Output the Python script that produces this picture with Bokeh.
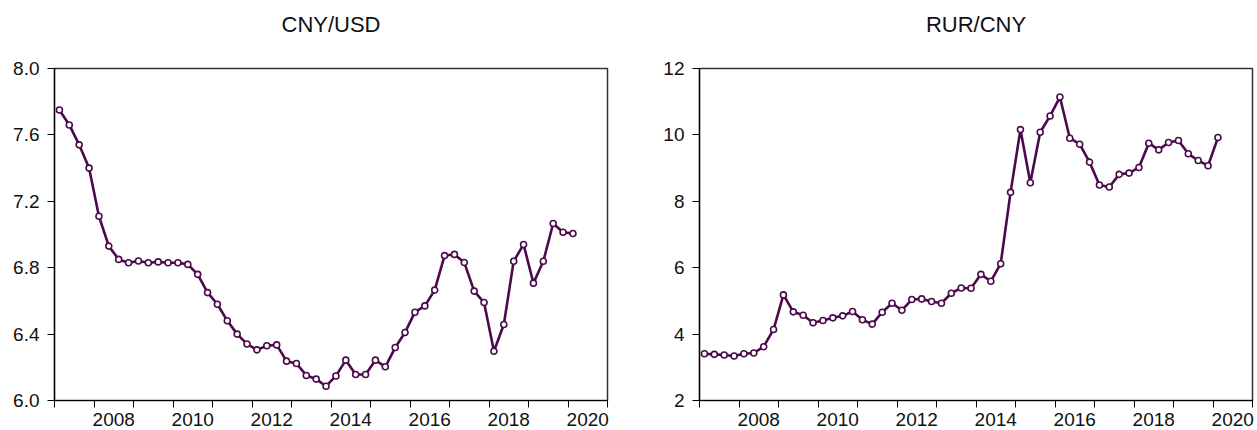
from bokeh.plotting import figure
from bokeh.layouts import row
from bokeh.models import FixedTicker, ColumnDataSource, Range1d, Title
from bokeh.embed import file_html
from bokeh.resources import INLINE

# Quarterly observations 2007Q1 .. 2020Q1
start_year = 2007
n_obs = 53
quarters = [f"{start_year + i // 4}Q{i % 4 + 1}" for i in range(n_obs)]

cny_usd = [7.75, 7.66, 7.54, 7.40, 7.11, 6.93, 6.85, 6.83, 6.84, 6.83,
           6.835, 6.83, 6.83, 6.82, 6.76, 6.65, 6.58, 6.48, 6.40, 6.34,
           6.305, 6.33, 6.335, 6.237, 6.223, 6.151, 6.129, 6.086, 6.148, 6.243,
           6.157, 6.157, 6.243, 6.203, 6.319, 6.41, 6.532, 6.57, 6.665, 6.873,
           6.88, 6.831, 6.659, 6.59, 6.297, 6.458, 6.839, 6.94, 6.707, 6.839,
           7.066, 7.014, 7.006]

rur_cny = [3.41, 3.39, 3.37, 3.34, 3.41, 3.43, 3.62, 4.14, 5.18, 4.67,
           4.57, 4.34, 4.41, 4.49, 4.55, 4.68, 4.43, 4.30, 4.66, 4.93,
           4.72, 5.04, 5.06, 4.98, 4.93, 5.23, 5.39, 5.38, 5.80, 5.59,
           6.12, 8.27, 10.16, 8.56, 10.08, 10.57, 11.14, 9.90, 9.72, 9.18,
           8.49, 8.43, 8.81, 8.85, 9.02, 9.75, 9.55, 9.77, 9.83, 9.43,
           9.23, 9.07, 9.92]

year_ticks = list(range(2007, 2022))
year_labels = ["2008", "2010", "2012", "2014", "2016", "2018", "2020"]

cny_ticks = [6.0, 6.4, 6.8, 7.2, 7.6, 8.0]
cny_tick_labels = ["6.0", "6.4", "6.8", "7.2", "7.6", "8.0"]
rur_ticks = [2, 4, 6, 8, 10, 12]
rur_tick_labels = ["2", "4", "6", "8", "10", "12"]


def qx(q):
    y, k = q.split("Q")
    return int(y) + (int(k) - 1) * 0.25 + 0.125


xs = [qx(q) for q in quarters]

LINE = "#4A0A4C"
FONT = "Liberation Sans"


def make(title, vals, yticks, ylabels, ymin, ymax, left_border, right_border):
    p = figure(output_backend="svg", toolbar_location=None,
               frame_width=553, frame_height=332,
               x_range=Range1d(2007, 2021), y_range=Range1d(ymin, ymax),
               min_border_left=left_border, min_border_right=right_border,
               min_border_top=68, min_border_bottom=0)
    p.title = None
    # spacer panel next to the frame, then the real title above it
    p.add_layout(Title(text=" ", text_font_size="2px", standoff=28), "above")
    p.add_layout(Title(text=title, align="center", text_font=FONT,
                       text_font_size="22px", text_font_style="normal",
                       text_color="#111111", standoff=0), "above")

    p.grid.visible = False
    p.outline_line_color = "#333333"
    p.outline_line_width = 1.5
    p.background_fill_color = "white"
    p.border_fill_color = "white"

    # x axis: ticks at year boundaries, labels centred in the year
    mids = [int(l) + 0.5 for l in year_labels]
    p.xaxis.ticker = FixedTicker(ticks=mids, minor_ticks=year_ticks)
    p.xaxis.major_label_overrides = {m: l for m, l in zip(mids, year_labels)}
    p.xaxis.major_tick_line_color = None
    p.xaxis.major_tick_out = 0
    p.xaxis.major_tick_in = 0
    p.xaxis.minor_tick_out = 7
    p.xaxis.minor_tick_in = 0
    p.xaxis.minor_tick_line_color = "black"
    p.xaxis.minor_tick_line_width = 1
    p.xaxis.major_label_standoff = 5

    p.yaxis.ticker = FixedTicker(ticks=yticks, minor_ticks=[])
    p.yaxis.major_label_overrides = {t: l for t, l in zip(yticks, ylabels)}
    p.yaxis.major_tick_out = 7
    p.yaxis.major_tick_in = 0
    p.yaxis.major_label_standoff = 8

    for ax in (p.xaxis, p.yaxis):
        ax.axis_line_color = "black"
        ax.axis_line_width = 1.2
        ax.major_label_text_font = FONT
        ax.major_label_text_font_size = "19px"
        ax.major_label_text_color = "#111111"
        ax.major_tick_line_width = 1

    src = ColumnDataSource(dict(x=xs, y=vals))
    p.line("x", "y", source=src, line_color=LINE, line_width=2.6)
    p.scatter("x", "y", source=src, size=6, fill_color="white",
              line_color=LINE, line_width=1.6)
    return p


p1 = make("CNY/USD", cny_usd, cny_ticks, cny_tick_labels, 6.0, 8.0, 54, 46)
p2 = make("RUR/CNY", rur_cny, rur_ticks, rur_tick_labels, 2, 12, 46, 4)

layout = row(p1, p2)
open("out.html", "w").write(file_html(layout, INLINE))
